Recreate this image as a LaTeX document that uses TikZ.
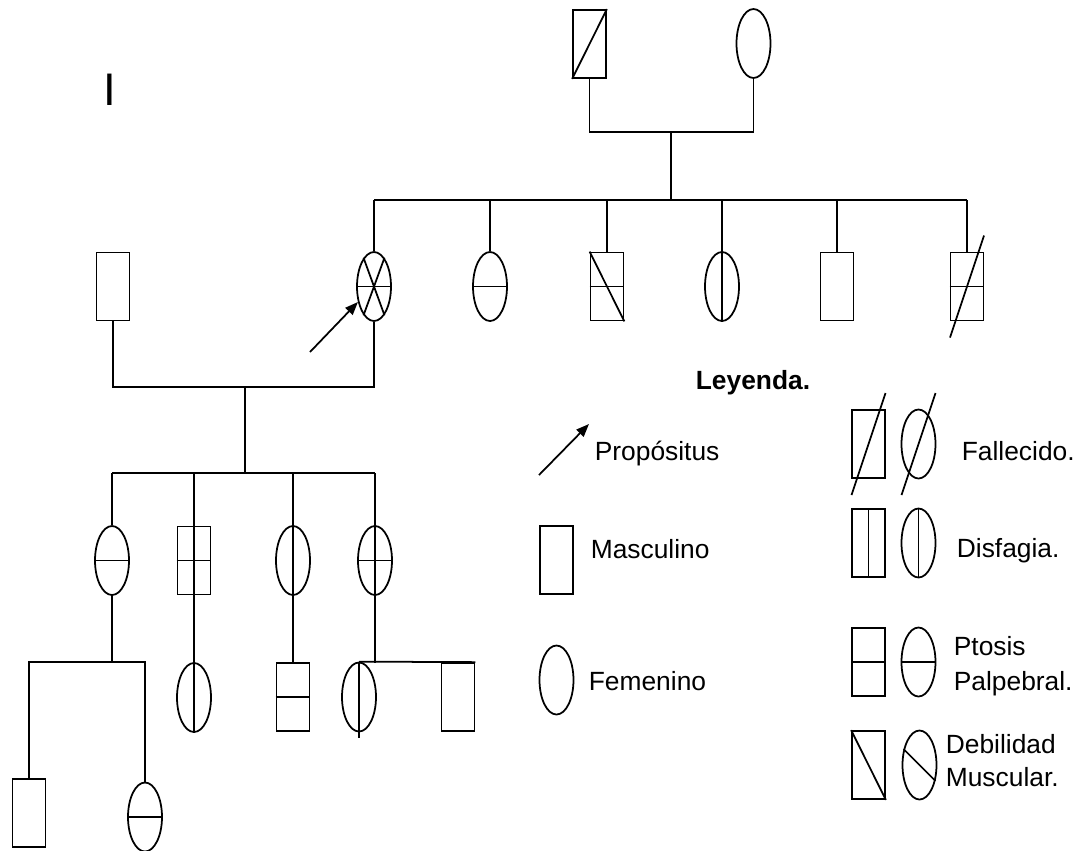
\documentclass[tikz,border=0pt]{standalone}
\usepackage{fontspec}
\setmainfont{Liberation Sans}
\usetikzlibrary{shapes.geometric,arrows.meta,calc}

% trait marks drawn inside a symbol
\newcommand\ptosisline[1]{\draw (#1.west) -- (#1.east);}
\newcommand\disfline[1]{\draw (#1.north) -- (#1.south);}
\newcommand\debsq[1]{\draw (#1.north west) -- (#1.south east);}
\newcommand\debel[1]{\draw (#1.135) -- (#1.-45);}
\newcommand\deadline[1]{\draw ($(#1.center)+(-17,51)$) -- ($(#1.center)+(17,-51)$);}

\begin{document}
\begin{tikzpicture}[x=0.02cm,y=-0.02cm, line width=1pt,
  male/.style={draw, rectangle, minimum width=0.66cm, minimum height=1.36cm, inner sep=0pt},
  female/.style={draw, ellipse, minimum width=0.68cm, minimum height=1.38cm, inner sep=0pt},
  lbl/.style={font=\fontsize{15pt}{18pt}\selectfont, inner sep=0pt, anchor=base west},
  lblb/.style={font=\fontsize{15pt}{18pt}\selectfont\bfseries, inner sep=0pt, anchor=base west},
  tip/.style={-{Triangle[length=0.26cm,width=0.2cm]}}
]
\useasboundingbox (0,0) rectangle (1082,850);

% generation label
\node[anchor=base west, inner sep=0pt, font=\fontsize{26pt}{30pt}\selectfont] (gen) at (103,105) {I};

% ---- generation I
\node[male] (g1m) at (589.5,44) {};
\draw (g1m.south west) -- (g1m.north east);
\node[female] (g1f) at (753.5,43.5) {};
\coordinate (g1j) at (671,132);
\coordinate (g2bar) at (671,200);
\draw (g1m.south) |- (g1j) -| (g1f.south);
\draw (g1j) -- (g2bar);

% ---- generation II
\node[male]   (sp)  at (113,286.5) {};
\node[female] (ii1) at (374,286.5) {};
\ptosisline{ii1}
\draw (ii1.70) -- (ii1.-110);
\draw (ii1.110) -- (ii1.-70);
\node[female] (ii2) at (490,286.5) {};
\ptosisline{ii2}
\node[male]   (ii3) at (607,286.5) {};
\ptosisline{ii3}
\debsq{ii3}
\node[female] (ii4) at (722,286.5) {};
\disfline{ii4}
\node[male]   (ii5) at (837,286.5) {};
\node[male]   (ii6) at (967,286.5) {};
\ptosisline{ii6}
\deadline{ii6}

\draw (ii1.north |- g2bar) -- (ii6.north |- g2bar);
\foreach \n in {ii1,ii2,ii3,ii4,ii5,ii6}
  \draw (\n.north) -- (\n.north |- g2bar);

% proband arrow
\coordinate (arr0) at (310,352);
\draw[tip] (arr0) -- (ii1.-136);

% marriage II
\coordinate (m2) at (245,387);
\coordinate (g3bar) at (245,473);
\draw (sp.south) |- (m2) -| (ii1.south);
\draw (m2) -- (g3bar);

% ---- generation III
\node[female] (iii1) at (112,560.5) {};
\ptosisline{iii1}
\node[male]   (iii2) at (194,560.5) {};
\ptosisline{iii2}
\disfline{iii2}
\node[female] (iii3) at (293,560.5) {};
\disfline{iii3}
\node[female] (iii4) at (375,560.5) {};
\ptosisline{iii4}
\disfline{iii4}

\draw (iii1.north |- g3bar) -- (iii4.north |- g3bar);
\foreach \n in {iii1,iii2,iii3,iii4}
  \draw (\n.north) -- (\n.north |- g3bar);

% ---- generation IV
\coordinate (m31) at (112,662);
\node[male]   (iv1) at (29,813) {};
\node[female] (iv2) at (145,817) {};
\ptosisline{iv2}
\draw (iii1.south) -- (m31);
\draw (iv1.north) |- (m31) -| (iv2.north);

\node[female] (iv3) at (194,697.5) {};
\disfline{iv3}
\draw (iii2.south) -- (iv3.north);

\node[male]   (iv4) at (293,697) {};
\ptosisline{iv4}
\draw (iii3.south) -- (iv4.north);

\coordinate (m34) at (375,662.5);
\node[female] (iv5) at (359,697) {};
\draw (iv5.north) -- ($(iv5.south)+(0,6)$);
\node[male]   (iv6) at (458,697) {};
\draw (iii4.south) -- (m34);
\draw (iv5.north) -- (iv6.north east);

% ---- legend
\node[lblb] (leg) at (695,389) {Leyenda.};

\coordinate (la0) at (539,475);
\coordinate (la1) at (589,424);
\draw[tip] (la0) -- (la1);
\node[lbl] (tprop) at (594,460) {Propósitus};

\node[male] (lm) at (556.5,560) {};
\node[lbl] (tmasc) at (590,558) {Masculino};

\node[female] (lf) at (556.5,680) {};
\node[lbl] (tfem) at (588,690) {Femenino};

\node[male] (ldm) at (868.5,444) {};
\deadline{ldm}
\node[female] (ldf) at (918.5,444) {};
\deadline{ldf}
\node[lbl] (tfal) at (961,460) {Fallecido.};

\node[male] (lsm) at (868.5,543) {};
\disfline{lsm}
\node[female] (lsf) at (918.5,543) {};
\disfline{lsf}
\node[lbl] (tdis) at (956,557) {Disfagia.};

\node[male] (lpm) at (868.5,662) {};
\ptosisline{lpm}
\node[female] (lpf) at (918.5,662) {};
\ptosisline{lpf}
\node[lbl] (tpt1) at (953,655) {Ptosis};
\node[lbl] (tpt2) at (953,690) {Palpebral.};

\node[male] (lwm) at (868.5,765) {};
\debsq{lwm}
\node[female] (lwf) at (919.5,765) {};
\debel{lwf}
\node[lbl] (tdb1) at (945,753) {Debilidad};
\node[lbl] (tdb2) at (945,786) {Muscular.};
\end{tikzpicture}
\end{document}
